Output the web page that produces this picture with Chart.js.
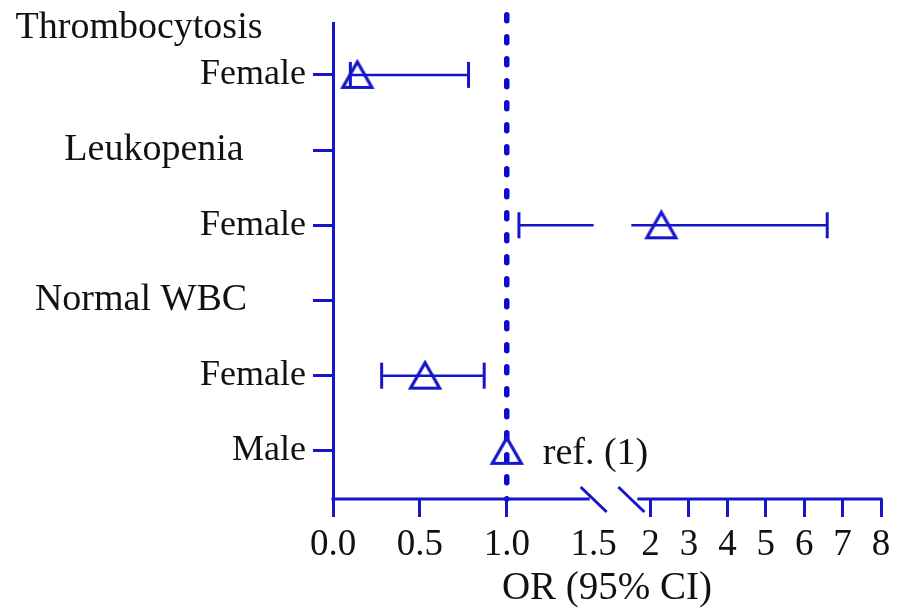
<!DOCTYPE html>
<html>
<head>
<meta charset="utf-8">
<title>OR (95% CI)</title>
<script src="https://cdn.jsdelivr.net/npm/chart.js@4.4.0/dist/chart.umd.min.js"></script>
<style>
  body { margin: 0; background: #fff; }
  #grafico { display: block; }
</style>
</head>
<body>
<canvas id="grafico" width="902" height="612"></canvas>
<script>
// Datos (filas de arriba hacia abajo)
const filas = ['Thrombocytosis', 'Female', 'Leukopenia', 'Female', 'Normal WBC', 'Female', 'Male'];
const esGrupo = [true, false, true, false, true, false, false];
const posFila = [6, 5, 4, 3, 2, 1, 0];
const orValores = [null, 0.14, null, 2.28, null, 0.53, 1.0];
const icInferior = [null, 0.10, null, 1.07, null, 0.28, null];
const icSuperior = [null, 0.78, null, 6.6, null, 0.87, null];
const valorReferencia = 1.0;
const textoReferencia = 'ref. (1)';
const ticksX = [0, 0.5, 1.0, 1.5, 2, 3, 4, 5, 6, 7, 8];
const etiquetasX = ['0.0', '0.5', '1.0', '1.5', '2', '3', '4', '5', '6', '7', '8'];
const tituloX = 'OR (95% CI)';

// Estilos
const azul = '#1616c8';
const azulOscuro = '#0a0ad2';
const negro = '#111111';
const fuente = "'Liberation Serif', 'Times New Roman', serif";

// Eje x cortado: lineal hasta 1.5, luego comprimido
const CORTE = 1.5;
const HUECO = 0.217;
const COMPRESION = 0.221;

function escalaRota(v) {
  if (v <= CORTE) {
    return v;
  }
  return CORTE + HUECO + (v - CORTE) * COMPRESION;
}

// Centro horizontal de los titulos de grupo
const centrosGrupo = { 'Thrombocytosis': 139, 'Leukopenia': 154, 'Normal WBC': 141 };

// Puntos del intervalo de confianza (se parte si cruza el corte)
function puntosIntervalo(inf, sup, y) {
  if (inf <= CORTE && sup > CORTE) {
    return [
      { x: inf, y: y, extremo: true },
      { x: CORTE, y: y, extremo: false },
      { x: CORTE + HUECO / 2, y: null, extremo: false },
      { x: CORTE + HUECO, y: y, extremo: false },
      { x: escalaRota(sup), y: y, extremo: true }
    ];
  }
  return [
    { x: escalaRota(inf), y: y, extremo: true },
    { x: escalaRota(sup), y: y, extremo: true }
  ];
}

// Triangulo hueco como imagen (centrado en su caja)
function crearTriangulo() {
  const c = document.createElement('canvas');
  c.width = 36;
  c.height = 32;
  const g = c.getContext('2d');
  g.strokeStyle = azul;
  g.lineWidth = 3.2;
  g.lineJoin = 'miter';
  g.beginPath();
  g.moveTo(18, 3);
  g.lineTo(32.5, 28.5);
  g.lineTo(3.5, 28.5);
  g.closePath();
  g.stroke();
  return c;
}

const datasets = [];

// Linea de referencia punteada en OR = 1
datasets.push({
  type: 'line',
  data: [{ x: valorReferencia, y: 5.8 }, { x: valorReferencia, y: -0.64 }],
  borderColor: azulOscuro,
  borderWidth: 5.5,
  borderDash: [6, 16],
  borderCapStyle: 'round',
  pointRadius: 0,
  clip: false,
  order: 3
});

// Intervalos
for (let i = 0; i < filas.length; i++) {
  if (icInferior[i] === null) continue;
  datasets.push({
    type: 'line',
    data: puntosIntervalo(icInferior[i], icSuperior[i], posFila[i]),
    borderColor: azul,
    borderWidth: 2.5,
    spanGaps: false,
    pointStyle: 'line',
    rotation: 90,
    pointRadius: (ctx) => (ctx.raw && ctx.raw.extremo ? 13 : 0),
    pointBorderWidth: 3,
    pointBorderColor: azul,
    order: 2
  });
}

// Estimaciones puntuales (triangulos)
const puntosOR = [];
for (let i = 0; i < filas.length; i++) {
  if (orValores[i] !== null) {
    puntosOR.push({ x: escalaRota(orValores[i]), y: posFila[i] });
  }
}
datasets.push({
  type: 'scatter',
  data: puntosOR,
  pointStyle: crearTriangulo(),
  pointRadius: 15,
  order: 1
});

// Plugin: titulos de grupo, texto de referencia y eje x cortado
const pluginTextos = {
  id: 'textos',
  afterDraw(chart) {
    const { ctx, chartArea, scales } = chart;
    const x = scales.x;
    const y = scales.y;
    ctx.save();

    ctx.font = '38px ' + fuente;
    ctx.fillStyle = negro;
    ctx.textBaseline = 'middle';
    ctx.textAlign = 'center';
    filas.forEach((nombre, i) => {
      if (!esGrupo[i]) return;
      const py = Math.max(y.getPixelForValue(posFila[i]), chartArea.top + 5);
      ctx.fillText(nombre, centrosGrupo[nombre], py);
    });

    ctx.textAlign = 'left';
    const iRef = orValores.indexOf(valorReferencia);
    ctx.fillText(textoReferencia, x.getPixelForValue(escalaRota(valorReferencia)) + 36, y.getPixelForValue(posFila[iRef]) + 3);

    // Eje x con corte
    const yEje = x.top;
    const pIzq = x.getPixelForValue(CORTE);
    const pDer = x.getPixelForValue(CORTE + HUECO);
    ctx.strokeStyle = azul;
    ctx.lineWidth = 3;
    ctx.beginPath();
    ctx.moveTo(chartArea.left - 1.5, yEje);
    ctx.lineTo(pIzq - 4, yEje);
    ctx.moveTo(pDer + 6, yEje);
    ctx.lineTo(chartArea.right + 1.5, yEje);
    [pIzq, pDer].forEach((p) => {
      ctx.moveTo(p - 13, yEje - 12);
      ctx.lineTo(p + 13, yEje + 13);
    });
    ctx.stroke();
    ctx.restore();
  }
};

new Chart(document.getElementById('grafico'), {
  data: { datasets: datasets },
  options: {
    responsive: false,
    animation: false,
    events: [],
    layout: { padding: { top: 23, right: 21, bottom: 0, left: 0 } },
    plugins: {
      legend: { display: false },
      tooltip: { enabled: false }
    },
    scales: {
      x: {
        type: 'linear',
        min: 0,
        max: escalaRota(8),
        border: { display: false },
        grid: {
          drawOnChartArea: false,
          drawTicks: true,
          tickLength: 18,
          tickWidth: 3,
          tickColor: (ctx) => (ctx.tick && ctx.tick.value === CORTE ? 'rgba(0,0,0,0)' : azul)
        },
        afterBuildTicks: (scale) => {
          scale.ticks = ticksX.map((v) => ({ value: escalaRota(v) }));
        },
        afterFit: (scale) => {
          scale.height = 113;
        },
        ticks: {
          autoSkip: false,
          maxRotation: 0,
          padding: 6,
          color: negro,
          font: { family: fuente, size: 37 },
          callback: (value, index) => etiquetasX[index]
        },
        title: {
          display: true,
          text: tituloX,
          color: negro,
          font: { family: fuente, size: 39 },
          padding: { top: 0, bottom: 0 }
        }
      },
      y: {
        type: 'linear',
        min: -0.64,
        max: 5.69,
        border: { display: true, color: azul, width: 3 },
        grid: {
          drawOnChartArea: false,
          drawTicks: true,
          tickLength: 20,
          tickWidth: 3,
          tickColor: azul
        },
        afterBuildTicks: (scale) => {
          scale.ticks = posFila.filter((v) => v <= scale.max).map((v) => ({ value: v }));
        },
        afterFit: (scale) => {
          scale.width = 333;
          scale.paddingTop = 0;
          scale.paddingBottom = 0;
        },
        ticks: {
          padding: 7,
          color: negro,
          font: { family: fuente, size: 36 },
          callback: (value) => {
            const i = posFila.indexOf(value);
            return esGrupo[i] ? '' : filas[i];
          }
        }
      }
    }
  },
  plugins: [pluginTextos]
});
</script>
</body>
</html>
